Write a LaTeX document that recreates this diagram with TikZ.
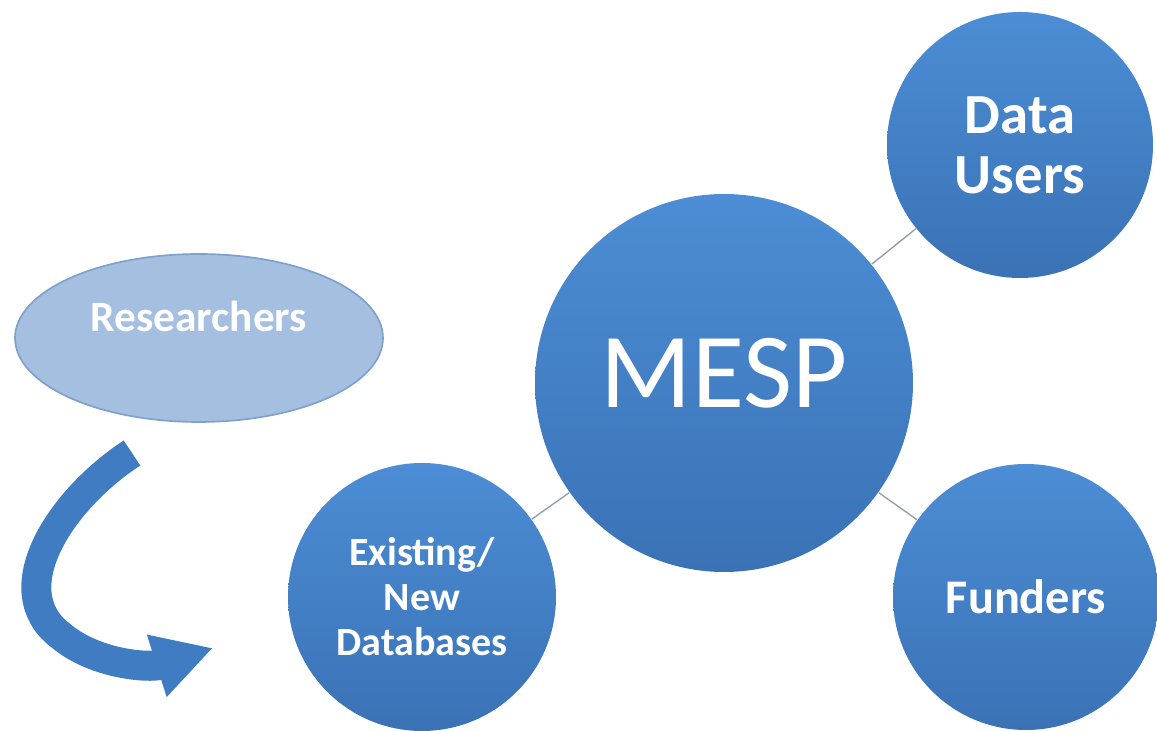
\documentclass[tikz,border=0pt]{standalone}
\usepackage{fontspec}
\setmainfont{Carlito}
\usepackage{tikz}
\usetikzlibrary{positioning}
\usetikzlibrary{arrows.meta}
\usetikzlibrary{shapes}
\definecolor{circtop}{HTML}{4C8DD5}
\definecolor{circbot}{HTML}{3A72B5}
\definecolor{ellfill}{HTML}{A4BFE0}
\definecolor{elldraw}{HTML}{7EA1CC}
\definecolor{linkgray}{HTML}{8E9DAE}
\definecolor{arrowblue}{HTML}{3F7CC2}
\tikzset{bubble/.style={circle,top color=circtop,bottom color=circbot,draw=none,inner sep=0pt,text=white,align=center},}

\begin{document}
\begin{tikzpicture}[x=0.3pt,y=-0.3pt]
	\useasboundingbox (0,0) rectangle (1157,731);
	\node[bubble, minimum size=113.4pt, text height=22pt, text depth=7pt,
	      font=\fontsize{32}{34}\selectfont] (mesp) at (724,383) {MESP};
	\node[bubble, minimum size=79.8pt, font=\fontsize{17}{18}\selectfont\bfseries] (users) at (1020,145) {Data\\Users};
	\node[bubble, minimum size=79.8pt, font=\fontsize{14.5}{16}\selectfont\bfseries] (funders) at (1026,597) {Funders};
	\node[bubble, minimum size=80.4pt, font=\fontsize{12}{13.5}\selectfont\bfseries] (dbs) at (422,597) {Existing/\\New\\Databases};
	\node[ellipse, fill=ellfill, draw=elldraw, line width=0.5pt, minimum width=110.4pt, minimum height=50.4pt,
	      inner sep=0pt, text=white, text height=8.4pt, text depth=12pt,
	      font=\fontsize{13}{14}\selectfont\bfseries] (res) at (199,338) {Researchers};

	\path[draw,linkgray,line width=0.4pt]
	(mesp) edge (users)
	(mesp) edge (funders)
	(mesp) edge (dbs);

	% curved arrow from researchers towards the databases
	\coordinate (tail) at (132,453);
	\coordinate (tip) at (213,648);
	\draw[arrowblue, line width=9pt, -{Triangle[length=17.7pt,width=18.3pt]}]
	(tail) .. controls (60,500) and (2,590) .. (60,635)
	       .. controls (95,665) and (150,668) .. (tip);
\end{tikzpicture}
\end{document}
